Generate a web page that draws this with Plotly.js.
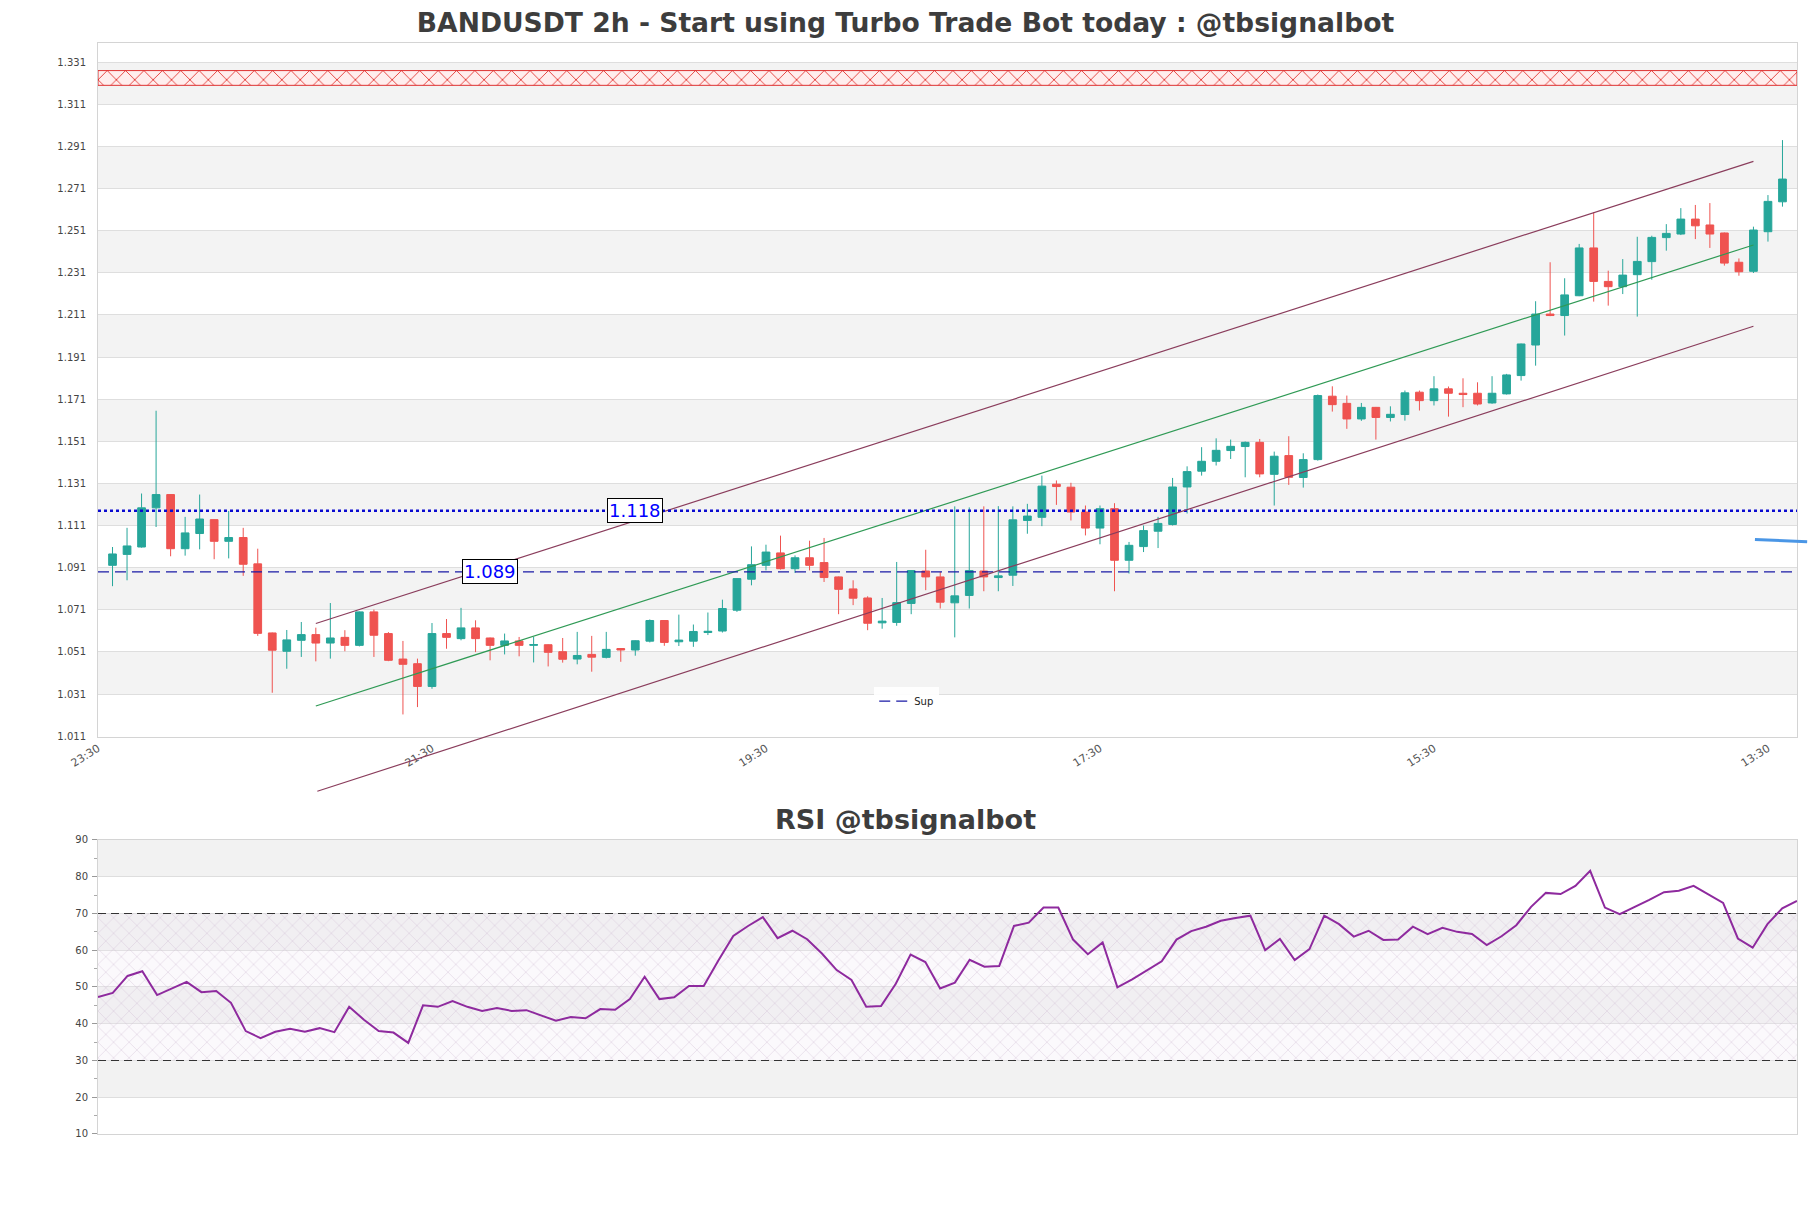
<!DOCTYPE html>
<html><head><meta charset="utf-8">
<script src="https://cdn.plot.ly/plotly-3.0.1.min.js"></script>
<style>html,body{margin:0;padding:0;background:#fff}#chart{width:1811px;height:1208px}</style>
</head><body><div id="chart"></div>
<script>
// ---------- data ----------
const open = [1.0921,1.0973,1.1008,1.1194,1.1257,1.1000,1.1072,1.1138,1.1035,1.1053,
1.0928,1.0600,1.0513,1.0565,1.0592,1.0552,1.0579,1.0541,1.0700,1.0597,
1.0476,1.0454,1.0346,1.0597,1.0573,1.0624,1.0576,1.0541,1.0562,1.0541,
1.0544,1.0511,1.0476,1.0498,1.0484,1.0526,1.0519,1.0561,1.0659,1.0558,
1.0561,1.0602,1.0609,1.0708,1.0855,1.0921,1.0980,1.0905,1.0957,1.0934,
1.0866,1.0809,1.0766,1.0648,1.0650,1.0740,1.0894,1.0866,1.0743,1.0778,
1.0894,1.0863,1.0874,1.1134,1.1149,1.1306,1.1292,1.1174,1.1098,1.1190,
1.0945,1.1010,1.1083,1.1115,1.1293,1.1368,1.1415,1.1466,1.1485,1.1505,
1.1353,1.1442,1.1338,1.1423,1.1724,1.1690,1.1616,1.1671,1.1623,1.1637,
1.1743,1.1703,1.1759,1.1738,1.1738,1.1692,1.1735,1.1822,1.1967,1.2114,
1.2107,1.2201,1.2428,1.2269,1.2244,1.2301,1.2363,1.2477,1.2494,1.2565,
1.2537,1.2499,1.2360,1.2317,1.2505,1.2647];
const high = [1.1008,1.1099,1.1262,1.1655,1.1258,1.1151,1.1257,1.1140,1.1179,1.1099,
1.1000,1.0602,1.0614,1.0652,1.0625,1.0742,1.0613,1.0702,1.0711,1.0604,
1.0562,1.0478,1.0647,1.0666,1.0719,1.0660,1.0578,1.0597,1.0581,1.0581,
1.0546,1.0576,1.0605,1.0586,1.0605,1.0528,1.0565,1.0664,1.0661,1.0687,
1.0640,1.0697,1.0758,1.0860,1.1011,1.1019,1.1062,1.0968,1.1038,1.1051,
1.0868,1.0850,1.0774,1.0766,1.0937,1.0898,1.0995,1.0890,1.1201,1.1196,
1.1201,1.1202,1.1201,1.1213,1.1347,1.1324,1.1313,1.1205,1.1205,1.1216,
1.1032,1.1110,1.1151,1.1336,1.1391,1.1482,1.1524,1.1518,1.1509,1.1521,
1.1461,1.1534,1.1453,1.1732,1.1771,1.1727,1.1692,1.1673,1.1676,1.1751,
1.1751,1.1819,1.1770,1.1809,1.1790,1.1819,1.1830,1.1974,1.2175,1.2360,
1.2284,1.2447,1.2597,1.2320,1.2375,1.2481,1.2486,1.2541,1.2617,1.2632,
1.2641,1.2501,1.2378,1.2529,1.2679,1.2940];
const low = [1.0822,1.0850,1.1005,1.1103,1.0964,1.0967,1.0997,1.0950,1.0954,1.0871,
1.0586,1.0316,1.0430,1.0486,1.0465,1.0478,1.0513,1.0536,1.0486,1.0466,
1.0213,1.0248,1.0335,1.0525,1.0565,1.0509,1.0470,1.0498,1.0489,1.0460,
1.0441,1.0459,1.0451,1.0416,1.0479,1.0463,1.0492,1.0555,1.0539,1.0538,
1.0534,1.0590,1.0602,1.0700,1.0826,1.0897,1.0901,1.0885,1.0897,1.0842,
1.0689,1.0732,1.0613,1.0620,1.0634,1.0689,1.0803,1.0716,1.0579,1.0716,
1.0798,1.0798,1.0823,1.1071,1.1107,1.1208,1.1134,1.1063,1.1021,1.0798,
1.0882,1.0984,1.1003,1.1110,1.1167,1.1347,1.1395,1.1426,1.1339,1.1339,
1.1205,1.1303,1.1290,1.1418,1.1651,1.1569,1.1607,1.1518,1.1604,1.1608,
1.1656,1.1680,1.1627,1.1672,1.1680,1.1688,1.1732,1.1798,1.1869,1.2104,
1.2012,1.2199,1.2173,1.2154,1.2209,1.2102,1.2277,1.2415,1.2489,1.2470,
1.2428,1.2344,1.2296,1.2309,1.2458,1.2624];
const close = [1.0975,1.1013,1.1194,1.1257,1.1000,1.1075,1.1141,1.1035,1.1053,1.0926,
1.0598,1.0518,1.0567,1.0592,1.0552,1.0576,1.0541,1.0700,1.0589,1.0470,
1.0451,1.0346,1.0597,1.0579,1.0624,1.0573,1.0541,1.0562,1.0541,1.0545,
1.0508,1.0475,1.0493,1.0485,1.0522,1.0519,1.0563,1.0659,1.0555,1.0566,
1.0607,1.0608,1.0716,1.0858,1.0924,1.0984,1.0905,1.0957,1.0921,1.0863,
1.0807,1.0765,1.0646,1.0656,1.0744,1.0896,1.0866,1.0746,1.0776,1.0896,
1.0866,1.0871,1.1137,1.1155,1.1297,1.1295,1.1174,1.1098,1.1190,1.0945,
1.1016,1.1086,1.1120,1.1293,1.1366,1.1415,1.1467,1.1486,1.1505,1.1355,
1.1439,1.1339,1.1423,1.1727,1.1684,1.1616,1.1671,1.1623,1.1638,1.1740,
1.1703,1.1759,1.1738,1.1732,1.1687,1.1738,1.1825,1.1972,1.2114,1.2107,
1.2205,1.2428,1.2269,1.2244,1.2299,1.2364,1.2478,1.2497,1.2565,1.2533,
1.2494,1.2356,1.2315,1.2513,1.2649,1.2755];
const rsi = [47.3,48.4,53.0,54.3,47.8,49.6,51.4,48.6,48.9,45.7,
38.0,36.1,37.8,38.6,37.8,38.8,37.7,44.6,41.1,38.0,
37.6,34.8,45.0,44.6,46.2,44.6,43.5,44.3,43.5,43.7,
42.3,40.8,41.8,41.5,44.0,43.8,46.7,52.8,46.7,47.2,
50.3,50.3,57.3,63.9,66.6,69.0,63.3,65.3,63.0,59.1,
54.6,51.9,44.6,44.8,50.9,58.8,56.8,49.6,51.2,57.4,
55.5,55.7,66.6,67.5,71.6,71.6,62.9,58.9,62.1,49.9,
52.1,54.5,57.0,62.9,65.2,66.4,68.0,68.8,69.4,60.0,
63.1,57.3,60.3,69.4,67.1,63.7,65.3,62.8,62.9,66.4,
64.4,66.1,65.0,64.4,61.4,63.8,66.8,71.8,75.6,75.3,
77.5,81.6,71.6,69.8,71.7,73.7,75.8,76.2,77.5,75.3,
72.9,63.2,60.7,67.1,71.4,73.4];

const tickPos  = [-1, 22, 45, 68, 91, 114];
const tickText = ['23:30','21:30','19:30','17:30','15:30','13:30'];
const yTicks = [1.011,1.031,1.051,1.071,1.091,1.111,1.131,1.151,1.171,1.191,1.211,1.231,1.251,1.271,1.291,1.311,1.331];
const rsiTicks = [10,20,30,40,50,60,70,80,90];

const resistanceLevel = 1.118;   // dotted
const supportLevel = 1.089;      // dashed "Sup"
const zoneLow = 1.320, zoneHigh = 1.327;
const channelX = [14, 113];
const channelUpper = [1.0645, 1.2839];
const channelMid = [1.0253, 1.2442];
const channelLower = [0.9846, 1.2056];
const projX = [113, 116.7];
const projY = [1.1044, 1.1033];
const rsiLevels = [30, 70];

// ---------- layout constants ----------
const xRange = [-1, 116];
const rsiXRange = [0, 115];
const idx = open.map((_, i) => i);
const FONT = 'DejaVu Sans';

const traces = [];

// hatched resistance zone
traces.push({
  type:'scatter', mode:'lines', xaxis:'x', yaxis:'y',
  x:[xRange[0], xRange[1], xRange[1], xRange[0], xRange[0]],
  y:[zoneLow, zoneLow, zoneHigh, zoneHigh, zoneLow],
  fill:'toself', fillcolor:'rgba(255,236,236,0.9)',
  fillpattern:{shape:'x', fgcolor:'#e0201c', bgcolor:'rgba(255,238,238,1)', size:13, solidity:0.12},
  line:{color:'rgba(220,30,30,0.9)', width:1},
  showlegend:false, hoverinfo:'skip'
});

// channel (upper + mid)
traces.push({type:'scatter', mode:'lines', xaxis:'x', yaxis:'y', x:channelX, y:channelUpper,
  line:{color:'#8a3d5c', width:1.2}, showlegend:false, hoverinfo:'skip'});
traces.push({type:'scatter', mode:'lines', xaxis:'x', yaxis:'y', x:channelX, y:channelMid,
  line:{color:'#2f9a55', width:1.2}, showlegend:false, hoverinfo:'skip'});

// candles
traces.push({
  type:'candlestick', xaxis:'x', yaxis:'y', x:idx, open:open, high:high, low:low, close:close,
  increasing:{line:{color:'#26a69a', width:1}, fillcolor:'#26a69a'},
  decreasing:{line:{color:'#ef5350', width:1}, fillcolor:'#ef5350'},
  whiskerwidth:0, showlegend:false, hoverinfo:'skip'
});

// horizontal levels
traces.push({type:'scatter', mode:'lines', xaxis:'x', yaxis:'y', x:xRange, y:[resistanceLevel, resistanceLevel],
  line:{color:'#0a0ad0', width:2.6, dash:'dot'}, showlegend:false, hoverinfo:'skip'});
traces.push({type:'scatter', mode:'lines', xaxis:'x', yaxis:'y', x:xRange, y:[supportLevel, supportLevel],
  name:'Sup', line:{color:'#1a1aa6', width:1.3, dash:'11px,6px'}, showlegend:true, hoverinfo:'skip'});

// RSI hatched zone
traces.push({
  type:'scatter', mode:'lines', xaxis:'x2', yaxis:'y2',
  x:[rsiXRange[0], rsiXRange[1], rsiXRange[1], rsiXRange[0], rsiXRange[0]],
  y:[rsiLevels[0], rsiLevels[0], rsiLevels[1], rsiLevels[1], rsiLevels[0]],
  fill:'toself', fillcolor:'rgba(255,255,255,0)',
  fillpattern:{shape:'x', fgcolor:'#c8b4cc', bgcolor:'rgba(240,232,242,0.25)', size:11, solidity:0.06},
  line:{width:0, color:'rgba(0,0,0,0)'}, showlegend:false, hoverinfo:'skip'
});
// RSI level lines
rsiLevels.forEach(v => traces.push({type:'scatter', mode:'lines', xaxis:'x2', yaxis:'y2',
  x:rsiXRange, y:[v, v], line:{color:'#333', width:1.2, dash:'8px,5px'}, showlegend:false, hoverinfo:'skip'}));
// RSI line
traces.push({type:'scatter', mode:'lines', xaxis:'x2', yaxis:'y2', x:idx, y:rsi,
  line:{color:'#8e2a9e', width:2}, showlegend:false, hoverinfo:'skip'});

// background bands
const shapes = [];
for (let k = 0; k < 8; k++) {
  shapes.push({type:'rect', layer:'below', xref:'x', yref:'y', x0:xRange[0], x1:xRange[1],
    y0:yTicks[2*k+1], y1:yTicks[2*k+2], fillcolor:'#f3f3f3', line:{width:0}});
}
[[20,30],[40,50],[60,70],[80,90]].forEach(b => shapes.push({type:'rect', layer:'below', xref:'x2', yref:'y2',
  x0:rsiXRange[0], x1:rsiXRange[1], y0:b[0], y1:b[1], fillcolor:'#f2f2f2', line:{width:0}}));

const annotations = [
  {xref:'x', yref:'y', x:36, y:resistanceLevel, text:resistanceLevel.toFixed(3), showarrow:false,
   font:{family:FONT, size:18, color:'#0000ff'}, bgcolor:'#ffffff', bordercolor:'#000', borderwidth:1, borderpad:1},
  {xref:'x', yref:'y', x:26, y:supportLevel, text:supportLevel.toFixed(3), showarrow:false,
   font:{family:FONT, size:18, color:'#0000ff'}, bgcolor:'#ffffff', bordercolor:'#000', borderwidth:1, borderpad:1},
  // lower channel line (extends below plot area)
  {xref:'x', yref:'y', axref:'x', ayref:'y', x:channelX[1], y:channelLower[1], ax:channelX[0], ay:channelLower[0],
   text:'', showarrow:true, arrowhead:0, arrowwidth:1.2, arrowcolor:'#8a3d5c', standoff:0, startstandoff:0},
  // projection segment
  {xref:'x', yref:'y', axref:'x', ayref:'y', x:projX[1], y:projY[1], ax:projX[0], ay:projY[0],
   text:'', showarrow:true, arrowhead:0, arrowwidth:3, arrowcolor:'#4a96e6', standoff:0, startstandoff:0},
  {xref:'paper', yref:'paper', x:0.4753, y:0.2881, xanchor:'center', yanchor:'middle', showarrow:false,
   text:'RSI @tbsignalbot', font:{family:FONT, size:27, weight:'bold', color:'#3d3d3d'}}
];

const axisLine = {showline:true, mirror:true, linecolor:'#d4d4d4', linewidth:1, zeroline:false};

const layout = {
  width:1811, height:1208,
  margin:{l:98, r:14, t:43.3, b:73.7},
  paper_bgcolor:'#ffffff', plot_bgcolor:'#ffffff',
  font:{family:FONT, color:'#444'},
  boxgap:0.24,
  title:{text:'BANDUSDT 2h - Start using Turbo Trade Bot today : @tbsignalbot', x:0.5, xref:'container',
    y:0.981, yref:'container', yanchor:'middle', font:{family:FONT, size:26.6, weight:'bold', color:'#3d3d3d'}},
  xaxis:Object.assign({domain:[0,1], anchor:'y', range:xRange, tickmode:'array', tickvals:tickPos, ticktext:tickText,
    tickangle:-32, tickfont:{family:FONT, size:11, color:'#555'}, showgrid:false, ticks:'',
    rangeslider:{visible:false}}, axisLine),
  yaxis:Object.assign({domain:[0.3639,1], anchor:'x', range:[1.0106,1.3401], tickmode:'array', tickvals:yTicks,
    tickformat:'.3f', tickfont:{family:FONT, size:10, color:'#444'}, showgrid:true, gridcolor:'#dedede',
    gridwidth:1, ticks:'', ticklabelstandoff:9}, axisLine),
  xaxis2:Object.assign({domain:[0,1], anchor:'y2', range:rsiXRange, showticklabels:false, showgrid:false, ticks:''}, axisLine),
  yaxis2:Object.assign({domain:[0,0.2695], anchor:'x2', range:[10,90], tickmode:'array', tickvals:rsiTicks,
    tickfont:{family:FONT, size:10, color:'#444'}, showgrid:true, gridcolor:'#dedede', ticks:'outside',
    ticklen:5, tickcolor:'#999', ticklabelstandoff:2,
    minor:{dtick:5, ticks:'outside', ticklen:3, tickcolor:'#aaa', showgrid:false}}, axisLine),
  showlegend:true,
  legend:{x:0.476, xanchor:'center', y:0.41, yanchor:'top', bgcolor:'rgba(255,255,255,0.9)',
    font:{family:FONT, size:10, color:'#222'}, itemwidth:30},
  shapes:shapes,
  annotations:annotations
};

Plotly.newPlot('chart', traces, layout, {displayModeBar:false, staticPlot:true});
</script></body></html>
